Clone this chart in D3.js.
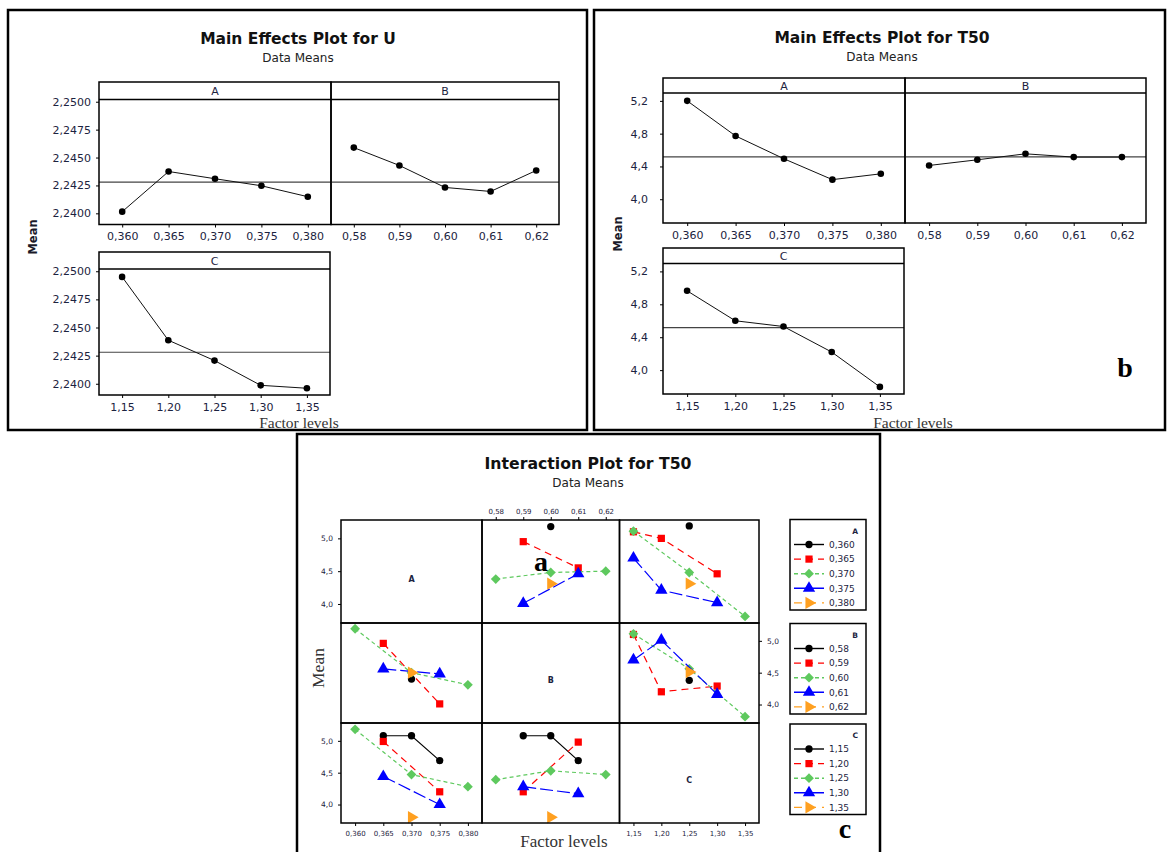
<!DOCTYPE html>
<html>
<head>
<meta charset="utf-8">
<script src="https://cdn.jsdelivr.net/npm/d3@7"></script>
<style>
  body { margin: 0; background: #fff; }
  svg { display: block; }
</style>
</head>
<body>
<script>
// factor levels
const levelsA = ["0,360", "0,365", "0,370", "0,375", "0,380"];
const levelsB = ["0,58", "0,59", "0,60", "0,61", "0,62"];
const levelsC = ["1,15", "1,20", "1,25", "1,30", "1,35"];

// main effects, U (data means)
const uMeanA = [2.24015, 2.24375, 2.2431, 2.24247, 2.24149];
const uMeanB = [2.24589, 2.24429, 2.24232, 2.24196, 2.24384];
const uMeanC = [2.2495, 2.24387, 2.24206, 2.23986, 2.2396];
const uGrand = 2.2428;
const uTicks = [2.24, 2.2425, 2.245, 2.2475, 2.25];

// main effects, T50 (data means)
const tMeanA = [5.2, 4.772, 4.493, 4.239, 4.31];
const tMeanB = [4.412, 4.481, 4.554, 4.514, 4.514];
const tMeanC = [4.964, 4.6, 4.53, 4.22, 3.796];
const tGrand = 4.516;
const tTicks = [4.0, 4.4, 4.8, 5.2];

// interaction T50: rows = trace factor levels, columns = x factor levels
const intAB = [
  [null, null, 5.18, null, null],
  [null, 4.95, null, 4.55, null],
  [4.38, null, 4.48, null, 4.5],
  [null, 4.01, null, 4.46, null],
  [null, null, 4.31, null, null]
];
const intAC = [
  [null, null, 5.19, null, null],
  [5.1, 5.0, null, 4.46, null],
  [5.11, null, 4.48, null, 3.81],
  [4.7, 4.21, null, 4.02, null],
  [null, null, 4.31, null, null]
];
const intBA = [
  [null, null, 4.4, null, null],
  [null, 4.96, null, 4.01, null],
  [5.19, null, 4.5, null, 4.31],
  [null, 4.56, null, 4.48, null],
  [null, null, 4.5, null, null]
];
const intBC = [
  [null, null, 4.38, null, null],
  [5.1, 4.2, null, 4.29, null],
  [5.11, null, 4.56, null, 3.81],
  [4.7, 5.01, null, 4.16, null],
  [null, null, 4.51, null, null]
];
const intCA = [
  [null, 5.08, 5.08, 4.69, null],
  [null, 4.99, null, 4.2, null],
  [5.18, null, 4.47, null, 4.28],
  [null, 4.44, null, 4.0, null],
  [null, null, 3.8, null, null]
];
const intCB = [
  [null, 5.08, 5.08, 4.69, null],
  [null, 4.2, null, 4.98, null],
  [4.39, null, 4.53, null, 4.47],
  [null, 4.28, null, 4.17, null],
  [null, null, 3.8, null, null]
];
const intTicks = [4.0, 4.5, 5.0];

const SANS = "'DejaVu Sans', Verdana, sans-serif";
const SERIF = "'Liberation Serif', 'Times New Roman', serif";
const tickColor = "#1c2340";
const comma = (f) => (v) => d3.format(f)(v).replace(".", ",");

const svg = d3.select("body").append("svg")
  .attr("width", 1168)
  .attr("height", 852);

svg.append("rect").attr("width", 1168).attr("height", 852).attr("fill", "#fff");

function styleAxis(ax, size) {
  ax.select(".domain").remove();
  ax.selectAll("line").attr("stroke", "#000");
  ax.selectAll("text")
    .attr("font-family", SANS)
    .attr("font-size", size)
    .attr("fill", tickColor);
}

function text(g, x, y, str, o) {
  const t = g.append("text")
    .attr("x", x).attr("y", y)
    .attr("text-anchor", o.anchor || "middle")
    .attr("font-family", o.family || SANS)
    .attr("font-size", o.size)
    .attr("font-weight", o.weight || "normal")
    .attr("fill", o.fill || "#111")
    .text(str);
  if (o.rotate) t.attr("transform", `rotate(${o.rotate},${x},${y})`);
  return t;
}

// ---------- main effects panels ----------
function mainPanel(g, o) {
  const x = d3.scalePoint().domain(o.levels).range([o.x0, o.x1]).padding(0.5);
  const y = d3.scaleLinear().domain(o.domain).range([o.bot, o.top + o.strip]);

  g.append("line")
    .attr("x1", o.x0).attr("x2", o.x1)
    .attr("y1", y(o.grand)).attr("y2", y(o.grand))
    .attr("stroke", "#444").attr("stroke-width", 1.2);

  const pts = o.values.map((v, i) => [x(o.levels[i]), y(v)]);
  g.append("path")
    .attr("d", d3.line()(pts))
    .attr("fill", "none")
    .attr("stroke", "#111")
    .attr("stroke-width", 1);
  g.selectAll(null).data(pts).join("circle")
    .attr("cx", (d) => d[0]).attr("cy", (d) => d[1])
    .attr("r", 3.3).attr("fill", "#000");

  g.append("rect")
    .attr("x", o.x0).attr("y", o.top)
    .attr("width", o.x1 - o.x0).attr("height", o.bot - o.top)
    .attr("fill", "none").attr("stroke", "#000").attr("stroke-width", 1.5);
  g.append("line")
    .attr("x1", o.x0).attr("x2", o.x1)
    .attr("y1", o.top + o.strip).attr("y2", o.top + o.strip)
    .attr("stroke", "#000").attr("stroke-width", 1.5);
  text(g, (o.x0 + o.x1) / 2, o.top + o.strip / 2 + 4, o.name, { size: 11, fill: tickColor });

  const ax = g.append("g")
    .attr("transform", `translate(0,${o.bot})`)
    .call(d3.axisBottom(x).tickSize(3).tickPadding(5));
  styleAxis(ax, 11);

  if (o.yTicks) {
    const ay = g.append("g")
      .attr("transform", `translate(${o.x0},0)`)
      .call(d3.axisLeft(y).tickValues(o.yTicks).tickFormat(o.yFmt).tickSize(3).tickPadding(o.yPad));
    styleAxis(ay, 11);
  }
}

function frame(x0, y0, x1, y1) {
  svg.append("rect")
    .attr("x", x0).attr("y", y0)
    .attr("width", x1 - x0).attr("height", y1 - y0)
    .attr("fill", "none").attr("stroke", "#000").attr("stroke-width", 2.5);
}

// U chart
frame(8, 10, 587, 430);
const gU = svg.append("g");
text(gU, 298, 44, "Main Effects Plot for U", { size: 15.5, weight: "bold" });
text(gU, 298, 62, "Data Means", { size: 12, fill: "#222" });
const uDom = [2.239, 2.2502];
mainPanel(gU, { x0: 99, x1: 331, top: 82, strip: 17.5, bot: 224.5, name: "A", levels: levelsA, values: uMeanA, domain: uDom, grand: uGrand, yTicks: uTicks, yFmt: comma(".4f"), yPad: 5 });
mainPanel(gU, { x0: 331, x1: 559, top: 82, strip: 17.5, bot: 224.5, name: "B", levels: levelsB, values: uMeanB, domain: uDom, grand: uGrand });
mainPanel(gU, { x0: 99, x1: 330, top: 252, strip: 17, bot: 395, name: "C", levels: levelsC, values: uMeanC, domain: uDom, grand: uGrand, yTicks: uTicks, yFmt: comma(".4f"), yPad: 5 });
text(gU, 33, 237, "Mean", { size: 11.5, weight: "bold", rotate: -90, fill: "#1a1a2a" }).attr("dy", "0.35em");
text(gU, 299, 428, "Factor levels", { size: 15.5, family: SERIF, fill: "#333" });

// T50 chart
frame(594, 10, 1165, 430);
const gT = svg.append("g");
text(gT, 882, 43, "Main Effects Plot for T50", { size: 15.5, weight: "bold" });
text(gT, 882, 61, "Data Means", { size: 12, fill: "#222" });
const tDom = [3.71, 5.296];
mainPanel(gT, { x0: 663, x1: 905, top: 78, strip: 15, bot: 223, name: "A", levels: levelsA, values: tMeanA, domain: tDom, grand: tGrand, yTicks: tTicks, yFmt: comma(".1f"), yPad: 12 });
mainPanel(gT, { x0: 905, x1: 1146, top: 78, strip: 15, bot: 223, name: "B", levels: levelsB, values: tMeanB, domain: tDom, grand: tGrand });
mainPanel(gT, { x0: 663, x1: 904, top: 248, strip: 15.5, bot: 394, name: "C", levels: levelsC, values: tMeanC, domain: tDom, grand: tGrand, yTicks: tTicks, yFmt: comma(".1f"), yPad: 12 });
text(gT, 618, 234, "Mean", { size: 11.5, weight: "bold", rotate: -90, fill: "#1a1a2a" }).attr("dy", "0.35em");
text(gT, 913, 427.5, "Factor levels", { size: 15.5, family: SERIF, fill: "#333" });
text(gT, 1125, 377, "b", { size: 28, weight: "bold", family: SERIF, fill: "#000" });

// ---------- interaction plot ----------
frame(297, 434, 880, 856);
const gI = svg.append("g");
text(gI, 588, 469, "Interaction Plot for T50", { size: 15.7, weight: "bold" });
text(gI, 588, 487, "Data Means", { size: 12, fill: "#222" });

const factors = [
  { name: "A", levels: levelsA },
  { name: "B", levels: levelsB },
  { name: "C", levels: levelsC }
];
const interData = { "0-1": intAB, "0-2": intAC, "1-0": intBA, "1-2": intBC, "2-0": intCA, "2-1": intCB };

const colX = [341, 482, 619.5, 759];
const rowY = [520, 623, 723, 823];
const iDom = [3.71, 5.28];

const seriesColor = ["#000000", "#ff0000", "#5ec95e", "#0000ff", "#ffa020"];
const seriesDash = [null, "7,5", "4,3", "13,4", "8,6"];
const seriesShape = [
  { type: d3.symbolCircle, size: 42, rot: 0 },
  { type: d3.symbolSquare, size: 52, rot: 0 },
  { type: d3.symbolSquare, size: 48, rot: 45 },
  { type: d3.symbolTriangle, size: 66, rot: 0 },
  { type: d3.symbolTriangle, size: 66, rot: 90 }
];

function marker(g, s, cx, cy) {
  const sh = seriesShape[s];
  g.append("path")
    .attr("d", d3.symbol().type(sh.type).size(sh.size)())
    .attr("transform", `translate(${cx},${cy}) rotate(${sh.rot})`)
    .attr("fill", seriesColor[s]);
}

const xScales = factors.map((f, c) =>
  d3.scalePoint().domain(f.levels).range([colX[c], colX[c + 1]]).padding(0.5));
const yScales = [0, 1, 2].map((r) =>
  d3.scaleLinear().domain(iDom).range([rowY[r + 1], rowY[r]]));

for (let r = 0; r < 3; r++) {
  for (let c = 0; c < 3; c++) {
    const cell = gI.append("g");
    const cx = (colX[c] + colX[c + 1]) / 2;
    const cy = (rowY[r] + rowY[r + 1]) / 2;
    if (r === c) {
      text(cell, cx, cy + 10, factors[r].name, { size: 8, fill: tickColor, weight: "bold" });
    } else {
      const data = interData[`${r}-${c}`];
      const x = xScales[c];
      const y = yScales[r];
      data.forEach((row, s) => {
        const pts = row
          .map((v, i) => (v == null ? null : [x(factors[c].levels[i]), y(v)]))
          .filter(Boolean);
        if (pts.length > 1) {
          cell.append("path")
            .attr("d", d3.line()(pts))
            .attr("fill", "none")
            .attr("stroke", seriesColor[s])
            .attr("stroke-width", 1.2)
            .attr("stroke-dasharray", seriesDash[s]);
        }
        pts.forEach((p) => marker(cell, s, p[0], p[1]));
      });
    }
    cell.append("rect")
      .attr("x", colX[c]).attr("y", rowY[r])
      .attr("width", colX[c + 1] - colX[c]).attr("height", rowY[r + 1] - rowY[r])
      .attr("fill", "none").attr("stroke", "#000").attr("stroke-width", 1.5);
  }
}

// interaction axes
const fmtI = comma(".1f");
styleAxis(gI.append("g").attr("transform", `translate(0,${rowY[0]})`)
  .call(d3.axisTop(xScales[1]).tickSize(3).tickPadding(3)), 7);
styleAxis(gI.append("g").attr("transform", `translate(0,${rowY[3]})`)
  .call(d3.axisBottom(xScales[0]).tickSize(3).tickPadding(5)), 7);
styleAxis(gI.append("g").attr("transform", `translate(0,${rowY[3]})`)
  .call(d3.axisBottom(xScales[2]).tickSize(3).tickPadding(5)), 7);
[0, 2].forEach((r) => {
  styleAxis(gI.append("g").attr("transform", `translate(${colX[0]},0)`)
    .call(d3.axisLeft(yScales[r]).tickValues(intTicks).tickFormat(fmtI).tickSize(3).tickPadding(5)), 7.5);
});
styleAxis(gI.append("g").attr("transform", `translate(${colX[3]},0)`)
  .call(d3.axisRight(yScales[1]).tickValues(intTicks).tickFormat(fmtI).tickSize(3).tickPadding(5)), 7.5);

// legends
const legTop = [519.5, 623.5, 724];
factors.forEach((f, k) => {
  const lg = gI.append("g");
  const y0 = legTop[k];
  lg.append("rect")
    .attr("x", 790).attr("y", y0).attr("width", 76).attr("height", 90.5)
    .attr("fill", "#fff").attr("stroke", "#000").attr("stroke-width", 1.5);
  text(lg, 858, y0 + 14, f.name, { size: 7.5, anchor: "end", fill: tickColor, weight: "bold" });
  f.levels.forEach((lv, s) => {
    const ly = y0 + 25 + s * 14.6;
    lg.append("line")
      .attr("x1", 794).attr("x2", 824).attr("y1", ly).attr("y2", ly)
      .attr("stroke", seriesColor[s]).attr("stroke-width", 1.4)
      .attr("stroke-dasharray", seriesDash[s]);
    marker(lg, s, 809, ly);
    text(lg, 829, ly + 3.2, lv, { size: 9, anchor: "start", fill: tickColor });
  });
});

text(gI, 318, 668, "Mean", { size: 17.5, family: SERIF, rotate: -90, fill: "#333" }).attr("dy", "0.35em");
text(gI, 564, 847, "Factor levels", { size: 17, family: SERIF, fill: "#333" });
text(gI, 541, 571, "a", { size: 28, weight: "bold", family: SERIF, fill: "#000" });
text(gI, 845, 838, "c", { size: 28, weight: "bold", family: SERIF, fill: "#000" });
</script>
</body>
</html>
